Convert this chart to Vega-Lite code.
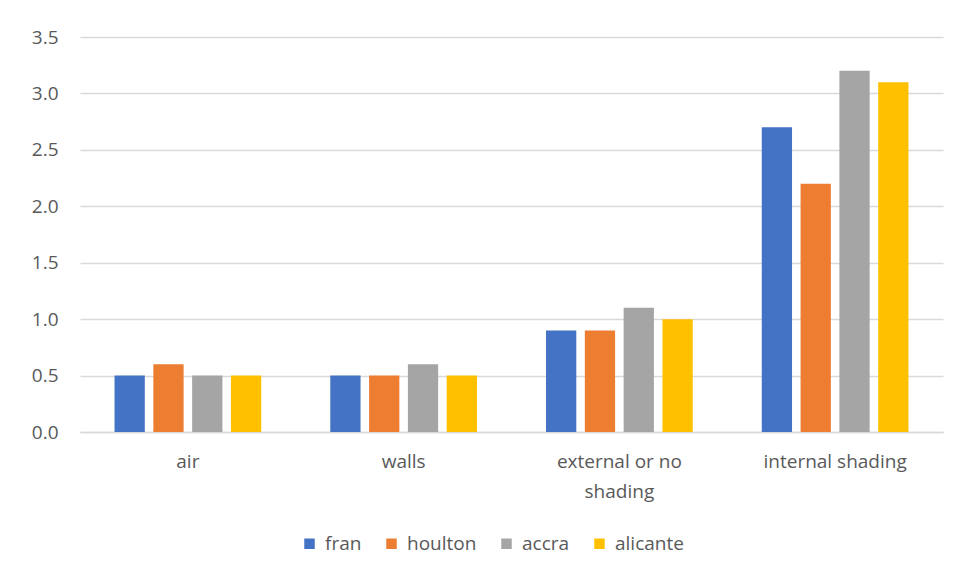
{
  "$schema": "https://vega.github.io/schema/vega-lite/v6.json",
  "width": 863,
  "height": 395,
  "autosize": {"type": "none"},
  "padding": {"left": 80, "top": 37, "right": 20, "bottom": 149},
  "background": "white",
  "config": {
    "font": "Open Sans",
    "view": {"stroke": null},
    "axis": {"labelColor": "#595959", "labelFontSize": 19, "titleColor": "#595959"},
    "legend": {"labelColor": "#595959", "labelFontSize": 19}
  },
  "data": {
    "values": [
      {"category": "air", "series": "fran", "value": 0.5},
      {"category": "air", "series": "houlton", "value": 0.6},
      {"category": "air", "series": "accra", "value": 0.5},
      {"category": "air", "series": "alicante", "value": 0.5},
      {"category": "walls", "series": "fran", "value": 0.5},
      {"category": "walls", "series": "houlton", "value": 0.5},
      {"category": "walls", "series": "accra", "value": 0.6},
      {"category": "walls", "series": "alicante", "value": 0.5},
      {"category": "external or no shading", "series": "fran", "value": 0.9},
      {"category": "external or no shading", "series": "houlton", "value": 0.9},
      {"category": "external or no shading", "series": "accra", "value": 1.1},
      {"category": "external or no shading", "series": "alicante", "value": 1.0},
      {"category": "internal shading", "series": "fran", "value": 2.7},
      {"category": "internal shading", "series": "houlton", "value": 2.2},
      {"category": "internal shading", "series": "accra", "value": 3.2},
      {"category": "internal shading", "series": "alicante", "value": 3.1}
    ]
  },
  "mark": {"type": "bar"},
  "encoding": {
    "x": {
      "field": "category",
      "type": "nominal",
      "sort": ["air", "walls", "external or no shading", "internal shading"],
      "scale": {"paddingInner": 0.32, "paddingOuter": 0.16},
      "axis": {
        "title": null,
        "labelAngle": 0,
        "ticks": false,
        "domainColor": "#D9D9D9",
        "domainWidth": 1.5,
        "labelPadding": 20,
        "labelLineHeight": 30,
        "labelExpr": "datum.value == 'external or no shading' ? ['external or no', 'shading'] : datum.value"
      }
    },
    "xOffset": {
      "field": "series",
      "type": "nominal",
      "sort": ["fran", "houlton", "accra", "alicante"],
      "scale": {"paddingInner": 0.22}
    },
    "y": {
      "field": "value",
      "type": "quantitative",
      "scale": {"domain": [0, 3.5], "nice": false},
      "axis": {
        "title": null,
        "values": [0, 0.5, 1, 1.5, 2, 2.5, 3, 3.5],
        "format": ".1f",
        "domain": false,
        "ticks": false,
        "gridColor": "#D9D9D9",
        "gridWidth": 1.5,
        "labelPadding": 22
      }
    },
    "color": {
      "field": "series",
      "type": "nominal",
      "sort": ["fran", "houlton", "accra", "alicante"],
      "scale": {
        "domain": ["fran", "houlton", "accra", "alicante"],
        "range": ["#4472C4", "#ED7D31", "#A5A5A5", "#FFC000"]
      },
      "legend": {
        "title": null,
        "orient": "none",
        "direction": "horizontal",
        "legendX": 220,
        "legendY": 497,
        "symbolType": "square",
        "symbolSize": 110,
        "symbolStrokeWidth": 0,
        "symbolOpacity": 1,
        "columnPadding": 20,
        "labelOffset": 6
      }
    }
  }
}
